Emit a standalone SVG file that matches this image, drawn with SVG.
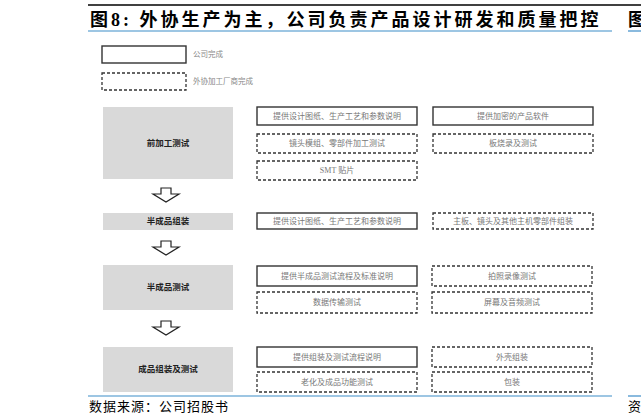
<svg xmlns="http://www.w3.org/2000/svg" width="641" height="420" viewBox="0 0 641 420">
<style>
text{font-family:"Liberation Serif","Noto Sans CJK SC",serif}
.s{fill:#fff;stroke:#333;stroke-width:1.4}
.d{fill:#fff;stroke:#333;stroke-width:1.3;stroke-dasharray:3,2}
.g{fill:#d9d9d9}
.t{font-size:8px;fill:#777;text-anchor:middle}
.gl{font-size:8.5px;fill:#222;font-weight:bold;text-anchor:middle}
.ar{fill:#fff;stroke:#222;stroke-width:1.2}
</style>
<rect width="641" height="420" fill="#fff"/>
<line x1="88" y1="5" x2="641" y2="5" stroke="#000" stroke-width="1.5"/>
<text x="90" y="26" font-size="18" font-weight="bold" fill="#000" letter-spacing="3">图8: 外协生产为主，公司负责产品设计研发和质量把控</text>
<text x="628" y="26" font-size="18" font-weight="bold" fill="#000">图</text>
<line x1="88" y1="31" x2="612" y2="31" stroke="#3c8dc8" stroke-width="1.2"/>
<line x1="628" y1="31" x2="641" y2="31" stroke="#3c8dc8" stroke-width="1.2"/>
<g id="legend">
<rect class="s" x="102" y="46" width="84" height="17"/>
<text x="193" y="57" font-size="7.5" fill="#888">公司完成</text>
<rect class="d" x="102" y="73" width="84" height="17"/>
<text x="193" y="84" font-size="7.5" fill="#888">外协加工厂商完成</text>
</g>
<g id="stage1">
<rect class="g" x="103" y="107" width="130" height="72"/>
<text class="gl" x="168" y="146">前加工测试</text>
</g>
<g id="b1a"><rect class="s" x="257" y="107" width="160" height="18"/><text class="t" x="337" y="119">提供设计图纸、生产工艺和参数说明</text></g>
<g id="b1b"><rect class="s" x="433" y="107" width="160" height="18"/><text class="t" x="513" y="119">提供加密的产品软件</text></g>
<g id="b1c"><rect class="d" x="257" y="134" width="160" height="19"/><text class="t" x="337" y="146">镜头模组、零部件加工测试</text></g>
<g id="b1d"><rect class="d" x="433" y="134" width="160" height="19"/><text class="t" x="513" y="146">板烧录及测试</text></g>
<g id="b1e"><rect class="d" x="257" y="161" width="160" height="19"/><text class="t" x="337" y="173">SMT 贴片</text></g>
<g id="stage2">
<rect class="g" x="103" y="213" width="130" height="17"/>
<text class="gl" x="168" y="224">半成品组装</text>
</g>
<g id="b2a"><rect class="s" x="257" y="213" width="160" height="16"/><text class="t" x="337" y="224">提供设计图纸、生产工艺和参数说明</text></g>
<g id="b2b"><rect class="d" x="433" y="213" width="160" height="16"/><text class="t" x="513" y="224">主板、镜头及其他主机零部件组装</text></g>
<g id="stage3">
<rect class="g" x="103" y="265" width="130" height="45"/>
<text class="gl" x="168" y="290">半成品测试</text>
</g>
<g id="b3a"><rect class="s" x="257" y="266" width="160" height="20"/><text class="t" x="337" y="279">提供半成品测试流程及标准说明</text></g>
<g id="b3b"><rect class="d" x="432" y="266" width="160" height="20"/><text class="t" x="512" y="279">拍照录像测试</text></g>
<g id="b3c"><rect class="d" x="257" y="292" width="160" height="21"/><text class="t" x="337" y="305">数据传输测试</text></g>
<g id="b3d"><rect class="d" x="432" y="292" width="160" height="21"/><text class="t" x="512" y="305">屏幕及音频测试</text></g>
<g id="stage4">
<rect class="g" x="103" y="347" width="130" height="45"/>
<text class="gl" x="168" y="372">成品组装及测试</text>
</g>
<g id="b4a"><rect class="s" x="257" y="347" width="160" height="20"/><text class="t" x="337" y="360">提供组装及测试流程说明</text></g>
<g id="b4b"><rect class="d" x="432" y="347" width="160" height="20"/><text class="t" x="512" y="360">外壳组装</text></g>
<g id="b4c"><rect class="d" x="257" y="372" width="160" height="20"/><text class="t" x="337" y="385">老化及成品功能测试</text></g>
<g id="b4d"><rect class="d" x="432" y="372" width="160" height="20"/><text class="t" x="512" y="385">包装</text></g>
<g id="connectors">
<polygon class="ar" points="161,188 171,188 171,194 179,194 166,202 153,194 161,194"/>
<polygon class="ar" points="161,241 171,241 171,247 179,247 166,255 153,247 161,247"/>
<polygon class="ar" points="161,321 171,321 171,327 179,327 166,335 153,327 161,327"/>
</g>
<line x1="88" y1="396" x2="612" y2="396" stroke="#3c8dc8" stroke-width="1.2"/>
<line x1="628" y1="396" x2="641" y2="396" stroke="#3c8dc8" stroke-width="1.2"/>
<text x="89" y="411" font-size="13" fill="#000" letter-spacing="1">数据来源：公司招股书</text>
<text x="628" y="411" font-size="13" fill="#000">资</text>
</svg>
